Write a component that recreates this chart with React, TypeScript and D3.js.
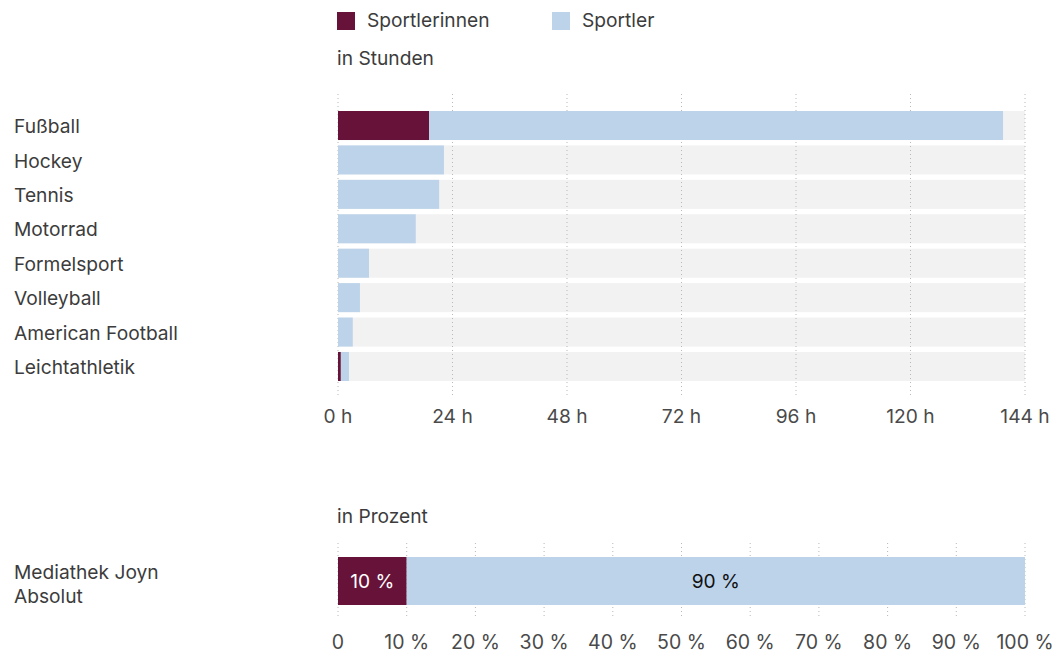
import React from "react";
import * as d3 from "d3";

const sports = ["Fußball", "Hockey", "Tennis", "Motorrad", "Formelsport", "Volleyball", "American Football", "Leichtathletik"];
const women = [19.1, 0, 0, 0, 0, 0, 0, 0.6];
const men = [120.3, 22.2, 21.2, 16.3, 6.5, 4.6, 3.1, 1.7];
const hourTicks = [0, 24, 48, 72, 96, 120, 144];

const shareCategories = ["Mediathek Joyn Absolut"];
const shareWomen = [10];
const shareMen = [90];
const pctTicks = [0, 10, 20, 30, 40, 50, 60, 70, 80, 90, 100];

const seriesNames = ["Sportlerinnen", "Sportler"];
const colors = ["#671239", "#bcd3ea"];

const FONT = "Inter, 'Noto Sans', sans-serif";

export default function App() {
  const W = 1060, H = 655;
  const x = d3.scaleLinear().domain([0, 144]).range([338, 1025]);
  const y = d3.scaleBand<string>().domain(sports).range([108.3, 383.7]).paddingInner(0.157).paddingOuter(0.0785);
  const xp = d3.scaleLinear().domain([0, 100]).range([338, 1025]);
  const yp = d3.scaleBand<string>().domain(shareCategories).range([557, 605]);

  const textColor = "#3c3c3c";
  const tickColor = "#4a4a4a";
  const FS = 19.2;

  return (
    <svg width={W} height={H} style={{ position: "absolute", left: 0, top: 0, fontFamily: FONT }}>
      {/* legend */}
      <g>
        {seriesNames.map((n, i) => {
          const lx = i === 0 ? 337 : 552;
          return (
            <g key={n}>
              <rect x={lx} y={12} width={18} height={18} fill={colors[i]} />
              <text x={lx + 30} y={27} fontSize={FS} fill={textColor}>{n}</text>
            </g>
          );
        })}
      </g>
      <text x={337} y={65} fontSize={FS} fill={textColor}>in Stunden</text>

      {/* top chart backgrounds */}
      {sports.map((s) => (
        <rect key={s + "bg"} x={x(0)} y={y(s)!} width={x(144) - x(0)} height={y.bandwidth()} fill="#f2f2f2" />
      ))}
      {/* gridlines */}
      {hourTicks.map((t) => (
        <line key={"g" + t} x1={x(t)} x2={x(t)} y1={94} y2={396} stroke="#b8b8b8" strokeWidth={1} strokeDasharray="1,3" />
      ))}
      {/* bars */}
      {sports.map((s, i) => (
        <g key={s}>
          {women[i] > 0 && (
            <rect x={x(0)} y={y(s)!} width={x(women[i]) - x(0)} height={y.bandwidth()} fill={colors[0]} />
          )}
          <rect x={x(women[i])} y={y(s)!} width={x(women[i] + men[i]) - x(women[i])} height={y.bandwidth()} fill={colors[1]} />
          <text x={14} y={y(s)! + y.bandwidth() / 2} dy="0.4em" fontSize={FS} fill={textColor}>{s}</text>
        </g>
      ))}
      {/* axis labels */}
      {hourTicks.map((t) => (
        <text key={"t" + t} x={x(t)} y={423} textAnchor="middle" fontSize={FS} fill={tickColor}>{`${t} h`}</text>
      ))}

      {/* bottom chart */}
      <text x={337} y={523} fontSize={FS} fill={textColor}>in Prozent</text>
      {pctTicks.map((t) => (
        <line key={"pg" + t} x1={xp(t)} x2={xp(t)} y1={543} y2={616} stroke="#b8b8b8" strokeWidth={1} strokeDasharray="1,3" />
      ))}
      {shareCategories.map((c, i) => {
        const y0 = yp(c)!;
        const h = yp.bandwidth();
        return (
          <g key={c}>
            <rect x={xp(0)} y={y0} width={xp(shareWomen[i]) - xp(0)} height={h} fill={colors[0]} />
            <rect x={xp(shareWomen[i])} y={y0} width={xp(shareWomen[i] + shareMen[i]) - xp(shareWomen[i])} height={h} fill={colors[1]} />
            <text x={(xp(0) + xp(shareWomen[i])) / 2} y={y0 + h / 2} dy="0.36em" textAnchor="middle" fontSize={FS} fill="#ffffff">{`${shareWomen[i]} %`}</text>
            <text x={(xp(shareWomen[i]) + xp(100)) / 2} y={y0 + h / 2} dy="0.36em" textAnchor="middle" fontSize={FS} fill="#111">{`${shareMen[i]} %`}</text>
            <text x={14} y={579} fontSize={FS} fill={textColor}>Mediathek Joyn</text>
            <text x={14} y={603} fontSize={FS} fill={textColor}>Absolut</text>
          </g>
        );
      })}
      {/* bottom ticks */}
      {pctTicks.map((t) => (
        <text key={"pt" + t} x={xp(t)} y={649} textAnchor="middle" fontSize={19.5} fill={tickColor}>{t === 0 ? "0" : `${t} %`}</text>
      ))}
    </svg>
  );
}
